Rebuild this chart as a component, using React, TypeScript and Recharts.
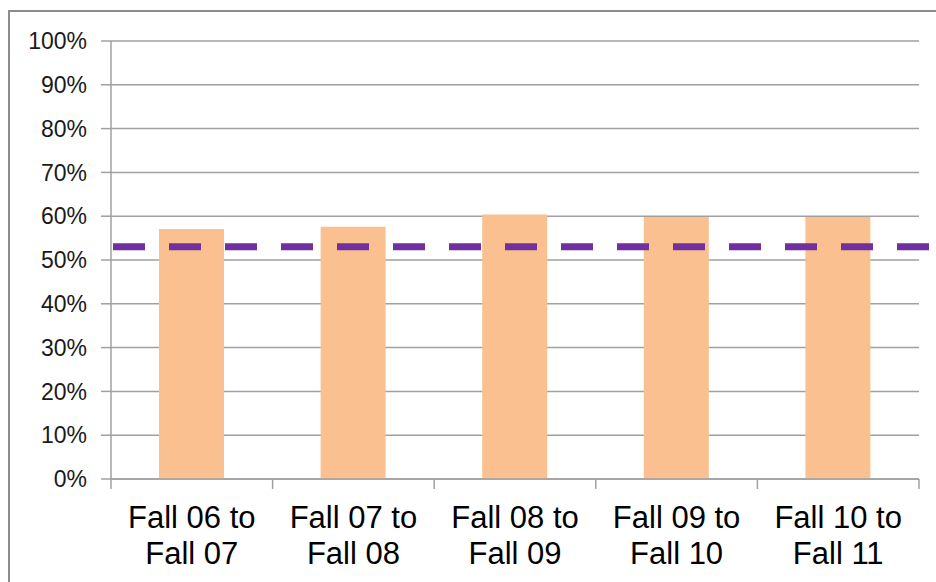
import { Bar, BarChart, CartesianGrid, ReferenceLine, XAxis, YAxis } from "recharts";

const categories = [
  "Fall 06 to Fall 07",
  "Fall 07 to Fall 08",
  "Fall 08 to Fall 09",
  "Fall 09 to Fall 10",
  "Fall 10 to Fall 11",
];
const rates = [0.571, 0.576, 0.604, 0.598, 0.598];
const target = 0.53;
const yTicks = [0, 0.1, 0.2, 0.3, 0.4, 0.5, 0.6, 0.7, 0.8, 0.9, 1];

const data = categories.map((c, i) => ({ name: c, rate: rates[i] }));

const FONT = '"Liberation Sans", Arial, sans-serif';
const GRID = "#a0a0a0";

// category label in two lines, plus Excel-style tick marks on the band edges
function CategoryTick(props: any) {
  const { x, y, payload, index } = props;
  const half = payload.offset ?? 0;
  const label: string = payload.value;
  const cut = label.indexOf(" to ") + 3;
  const lines = [label.slice(0, cut), label.slice(cut + 1)];
  return (
    <g>
      <line x1={x - half} y1={y} x2={x - half} y2={y + 10} stroke={GRID} strokeWidth={1.5} />
      {index === categories.length - 1 && (
        <line x1={x + half} y1={y} x2={x + half} y2={y + 10} stroke={GRID} strokeWidth={1.5} />
      )}
      <text x={x} y={y} textAnchor="middle" fill="#000" fontSize={31} fontFamily={FONT}>
        <tspan x={x} dy={49}>{lines[0]}</tspan>
        <tspan x={x} dy={36}>{lines[1]}</tspan>
      </text>
    </g>
  );
}

function DashedTarget(props: any) {
  const { x1, y1, y2 } = props;
  return (
    <line
      x1={x1}
      y1={y1}
      x2={936}
      y2={y2}
      stroke="#7030a0"
      strokeWidth={7}
      strokeDasharray="32 24"
      strokeDashoffset={54}
    />
  );
}

export default function App() {
  return (
    <div
      style={{
        position: "fixed",
        left: 0,
        top: 0,
        width: 936,
        height: 582,
        overflow: "hidden",
        background: "#fff",
      }}
    >
      <div
        style={{
          position: "absolute",
          left: 8,
          top: 10,
          width: 1000,
          height: 1000,
          border: "2px solid #8c8c8c",
        }}
      />
      <div style={{ position: "absolute", left: 0, top: 0 }}>
        <BarChart
          width={936}
          height={582}
          data={data}
          margin={{ top: 41, right: 17, left: 11, bottom: 13 }}
        >
          <CartesianGrid vertical={false} stroke={GRID} strokeWidth={1.5} />
          <XAxis
            dataKey="name"
            stroke={GRID}
            strokeWidth={1.5}
            tickLine={false}
            tickSize={0}
            tickMargin={0}
            interval={0}
            tick={<CategoryTick />}
            height={90}
          />
          <YAxis
            domain={[0, 1]}
            ticks={yTicks}
            tickFormatter={(v: number) => `${Math.round(v * 100)}%`}
            tick={{ fill: "#1a1a1a", fontSize: 23, fontFamily: FONT }}
            tickSize={10}
            tickMargin={14}
            stroke={GRID}
            strokeWidth={1.5}
            width={100}
          />
          <Bar dataKey="rate" fill="#fac090" barSize={65} isAnimationActive={false} />
          <ReferenceLine y={target} shape={<DashedTarget />} />
        </BarChart>
      </div>
    </div>
  );
}
